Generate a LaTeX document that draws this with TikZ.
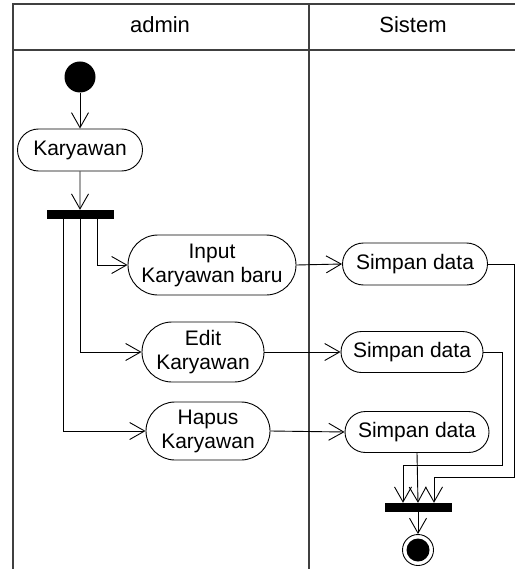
\documentclass[tikz,border=0pt]{standalone}
\usepackage{fontspec}
\setmainfont{Liberation Sans}
\usetikzlibrary{arrows.meta,shapes.misc}

\begin{document}
\begin{tikzpicture}[x=1pt,y=-1pt]
\tikzset{act/.style = {rounded rectangle, draw=black, line width=0.9pt, inner sep=0pt, align=center, font=\fontsize{21}{24}\selectfont}}
\tikzset{bar/.style = {rectangle, fill=black, draw=black, inner sep=0pt, minimum width=66pt, minimum height=8pt}}
\tikzset{flow/.style = {-{Straight Barb[length=15pt,width=17pt]}, line width=0.9pt}}
\tikzset{lane/.style = {line width=1.6pt, draw=black!75}}
\useasboundingbox (0,0) rectangle (515,569);

\draw[lane] (13,569) -- (13,4) -- (515,4);
\draw[lane] (13,50) -- (515,50);
\draw[lane] (309,4) -- (309,569);
\node[font=\fontsize{22}{24}\selectfont] (laneadmin) at (160,25) {admin};
\node[font=\fontsize{22}{24}\selectfont] (lanesistem) at (413,25) {Sistem};

    \node[circle, fill=black, inner sep=0pt, minimum size=31pt] (start) at (80,77) {};
    \node[act, minimum width=125pt, minimum height=42pt] (karyawan) at (80,150) {Karyawan};
    \node[bar] (fork) at (80,214) {};

    \node[act, minimum width=168pt, minimum height=60pt] (input) at (212,265) {Input\\Karyawan baru};
    \node[act, minimum width=122pt, minimum height=60pt] (edit) at (203,352) {Edit\\Karyawan};
    \node[act, minimum width=124pt, minimum height=58pt] (hapus) at (208,431) {Hapus\\Karyawan};

    \node[act, minimum width=145pt, minimum height=42pt] (simpan1) at (415,264) {Simpan data};
    \node[act, minimum width=142pt, minimum height=41pt] (simpan2) at (412,352) {Simpan data};
    \node[act, minimum width=144pt, minimum height=41pt] (simpan3) at (417,432) {Simpan data};

    \node[bar] (join) at (418,507) {};
    \node[circle, draw=black, line width=0.9pt, inner sep=0pt, minimum size=31pt] (stop) at (418,550) {};
    \node[circle, fill=black, inner sep=0pt, minimum size=23pt] (stopdot) at (418,550) {};

    \coordinate (bend1) at (514,477);
    \coordinate (bend2) at (502,465);

\draw[flow] (start) -- (karyawan);
\draw[flow] (karyawan) -- (fork);

\draw[flow] ([xshift=17pt]fork.south) |- (input.west);
\draw[flow] (fork.south) |- (edit.west);
\draw[flow] ([xshift=-17pt]fork.south) |- (hapus.west);

\draw[flow] (input.east) -- (simpan1.west);
\draw[flow] (edit.east) -- (simpan2.west);
\draw[flow] (hapus.east) -- (simpan3.west);

\draw[flow] (simpan1.east) -| (bend1) -| ([xshift=16pt]join.north);
\draw[flow] (simpan2.east) -| (bend2) -| ([xshift=-15pt]join.north);
\draw[flow] (simpan3.south) -- (join.north);

\draw[flow] (join) -- (stop);
\end{tikzpicture}
\end{document}
